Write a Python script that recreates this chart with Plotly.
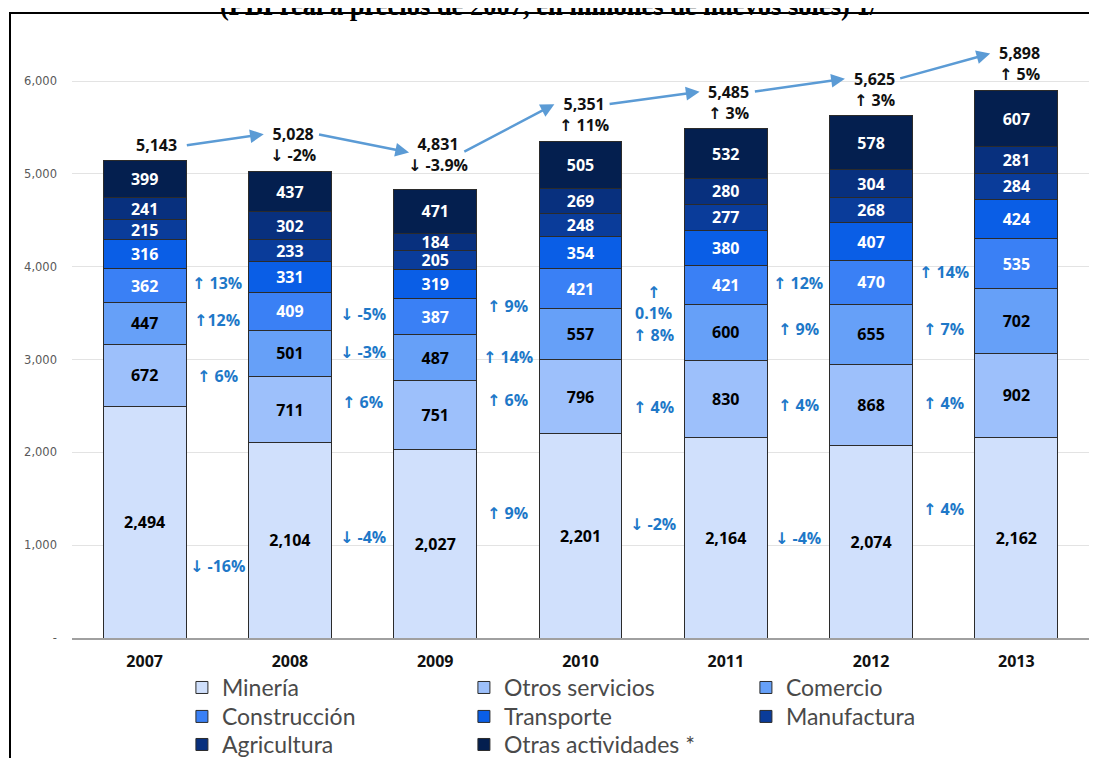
import plotly.graph_objects as go

years = ["2007", "2008", "2009", "2010", "2011", "2012", "2013"]
series_names = ["Minería", "Otros servicios", "Comercio", "Construcción",
                "Transporte", "Manufactura", "Agricultura", "Otras actividades *"]

mineria = [2494, 2104, 2027, 2201, 2164, 2074, 2162]
otros_servicios = [672, 711, 751, 796, 830, 868, 902]
comercio = [447, 501, 487, 557, 600, 655, 702]
construccion = [362, 409, 387, 421, 421, 470, 535]
transporte = [316, 331, 319, 354, 380, 407, 424]
manufactura = [215, 233, 205, 248, 277, 268, 284]
agricultura = [241, 302, 184, 269, 280, 304, 281]
otras_actividades = [399, 437, 471, 505, 532, 578, 607]

totals = [5143, 5028, 4831, 5351, 5485, 5625, 5898]
total_growth = ["", "↓ -2%", "↓ -3.9%", "↑ 11%", "↑ 3%", "↑ 3%", "↑ 5%"]

# growth labels between consecutive years (Minería, Otros servicios, Comercio, Construcción)
growth_mineria = ["↓ -16%", "↓ -4%", "↑ 9%", "↓ -2%", "↓ -4%", "↑ 4%"]
growth_otros = ["↑ 6%", "↑ 6%", "↑ 6%", "↑ 4%", "↑ 4%", "↑ 4%"]
growth_comercio = ["↑12%", "↓ -3%", "↑ 14%", "↑ 8%", "↑ 9%", "↑ 7%"]
growth_construccion = ["↑ 13%", "↓ -5%", "↑ 9%", "↑<br>0.1%", "↑ 12%", "↑ 14%"]

# vertical placement (axis units) of the growth labels
growth_y_mineria = [772, 1086, 1344, 1226, 1075, 1387]
growth_y_otros = [2819, 2538, 2559, 2484, 2505, 2527]
growth_y_comercio = [3422, 3086, 3032, 3269, 3333, 3333]
growth_y_construccion = [3821, 3495, 3581, 3613, 3828, 3946]

# extra pixel lift of the total labels
total_label_lift = [3, 3, 12, 3, 3, 3, 3]

colors = ["#D0E0FC", "#9DC0FB", "#66A0F8", "#3A80F5",
          "#0A5EE6", "#0A3C9A", "#08307E", "#041F4F"]
text_colors = ["#000000", "#000000", "#000000", "#FFFFFF",
               "#FFFFFF", "#FFFFFF", "#FFFFFF", "#FFFFFF"]
legend_rows = ["legend", "legend", "legend", "legend2",
               "legend2", "legend2", "legend3", "legend3"]

series = [mineria, otros_servicios, comercio, construccion,
          transporte, manufactura, agricultura, otras_actividades]

LABEL_FONT = "Open Sans, DejaVu Sans"

fig = go.Figure()
for name, vals, col, tcol, lg in zip(series_names, series, colors, text_colors, legend_rows):
    fig.add_trace(go.Bar(
        name=name, x=years, y=vals, legend=lg,
        marker=dict(color=col, line=dict(color="#2b2b2b", width=1)),
        text=[f"{v:,}" for v in vals], textposition="inside",
        insidetextanchor="middle",
        textfont=dict(family=LABEL_FONT, size=16, color=tcol, weight="bold"),
        hoverinfo="skip",
    ))

annotations = []
PX_PER_UNIT = 557 / 6000.0

# title (partially cut at the top edge, as in the source image)
annotations.append(dict(
    text="<b>(PBI real a precios de 2007, en millones de nuevos soles) 1/</b>",
    x=(549 - 72) / 1017, xref="paper", y=1, yref="paper", yanchor="middle",
    yshift=14, showarrow=False,
    font=dict(family="Liberation Serif", size=26.5, color="#000000"),
))

# totals with growth
for i, (yr, tot, g, lift) in enumerate(zip(years, totals, total_growth, total_label_lift)):
    txt = f"{tot:,}" + (f"<br>{g}" if g else "")
    annotations.append(dict(
        x=i, y=tot, xref="x", yref="y", text=txt, showarrow=False,
        yanchor="bottom", yshift=lift, xshift=12 if not g else 3,
        font=dict(family=LABEL_FONT, size=16, color="#111111", weight="bold"),
    ))

# arrows between totals
def label_offset(i):
    return (15 if not total_growth[i] else 37) / PX_PER_UNIT

for i in range(len(totals) - 1):
    start_x = i + (0.28 if not total_growth[i] else 0.19)
    annotations.append(dict(
        x=i + 1 - 0.18, y=totals[i + 1] + label_offset(i + 1),
        ax=start_x, ay=totals[i] + label_offset(i),
        xref="x", yref="y", axref="x", ayref="y", text="",
        showarrow=True, arrowhead=2, arrowsize=1.1, arrowwidth=2.5,
        arrowcolor="#5B9BD5",
    ))

# growth labels between bars
for labels, ys in [(growth_mineria, growth_y_mineria), (growth_otros, growth_y_otros),
                   (growth_comercio, growth_y_comercio),
                   (growth_construccion, growth_y_construccion)]:
    for i, (t, yv) in enumerate(zip(labels, ys)):
        annotations.append(dict(
            x=i + 0.5, y=yv, xref="x", yref="y", text=t, showarrow=False,
            font=dict(family=LABEL_FONT, size=16, color="#1E78C8", weight="bold"),
        ))

legend_common = dict(orientation="h", xref="container", x=0.1597, xanchor="left",
                     yref="container", yanchor="top", entrywidth=237,
                     entrywidthmode="pixels",
                     font=dict(family="Lato", size=23, color="#4A4A4A"),
                     traceorder="normal", itemclick=False, bgcolor="rgba(0,0,0,0)")

fig.update_layout(
    width=1089, height=758,
    margin=dict(l=64, r=8, t=12, b=128, autoexpand=False),
    barmode="stack", bargap=0.43,
    plot_bgcolor="white", paper_bgcolor="white",
    xaxis=dict(showline=True, linecolor="#A0A0A0", linewidth=2, ticks="",
               tickfont=dict(family=LABEL_FONT, size=16, color="#111111", weight="bold"),
               showgrid=False, ticklabelstandoff=8, automargin=False),
    yaxis=dict(range=[0, 618 / PX_PER_UNIT], tickvals=[0, 1000, 2000, 3000, 4000, 5000, 6000],
               ticktext=["-", "1,000", "2,000", "3,000", "4,000", "5,000", "6,000"],
               showgrid=True, gridcolor="#E3E3E3", gridwidth=1, zeroline=False,
               tickfont=dict(family="DejaVu Sans", size=11.5, color="#595959"),
               ticklabelstandoff=14, automargin=False),
    legend=dict(legend_common, y=0.1319),
    legend2=dict(legend_common, y=0.0937),
    legend3=dict(legend_common, y=0.0567),
    uniformtext=dict(minsize=16, mode="show"),
    annotations=annotations,
    shapes=[dict(type="rect", xref="paper", yref="paper",
                 x0=(10 - 72) / 1017, x1=1.05, y0=-0.3, y1=1 + 7 / 618,
                 line=dict(color="black", width=2), fillcolor="rgba(0,0,0,0)", layer="above")],
)

fig.write_html("out.html")
